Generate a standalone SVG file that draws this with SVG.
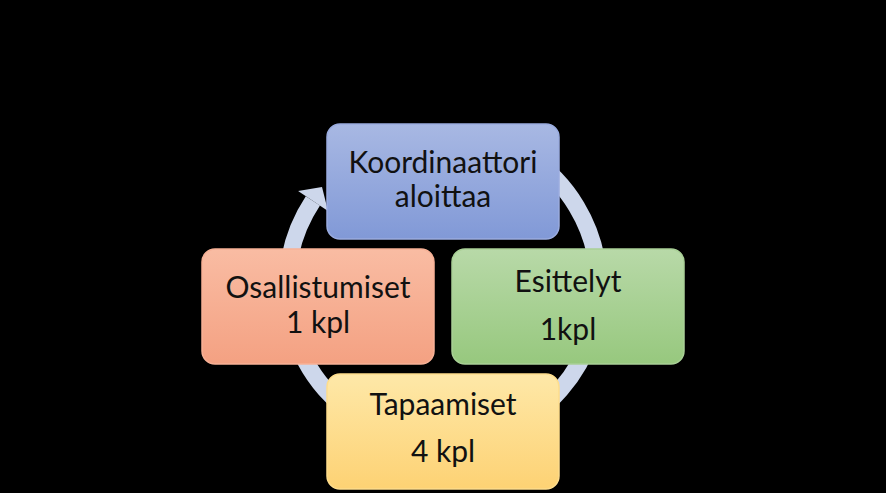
<svg xmlns="http://www.w3.org/2000/svg" width="886" height="493" viewBox="0 0 886 493">
<defs>
<style>
.box{stroke-width:1.5}
.t{font-family:Lato,"Open Sans","Liberation Sans",sans-serif;font-size:30px;fill:#111;text-anchor:middle}
.ring{fill:none;stroke:#cdd7eb;stroke-width:17}
</style>
<linearGradient id="gb" x1="0" y1="0" x2="0" y2="1"><stop offset="0" stop-color="#a8b8e3"/><stop offset="1" stop-color="#8199d7"/></linearGradient>
<linearGradient id="go" x1="0" y1="0" x2="0" y2="1"><stop offset="0" stop-color="#f9bca3"/><stop offset="1" stop-color="#f4a182"/></linearGradient>
<linearGradient id="gg" x1="0" y1="0" x2="0" y2="1"><stop offset="0" stop-color="#b8d9a8"/><stop offset="1" stop-color="#97c87e"/></linearGradient>
<linearGradient id="gy" x1="0" y1="0" x2="0" y2="1"><stop offset="0" stop-color="#fee8a8"/><stop offset="1" stop-color="#fdd274"/></linearGradient>
</defs>
<rect width="886" height="493" fill="#000"/>
<g id="connectors">
<path class="ring" d="M470.1,133.4 A156,156 0 1 1 312.9,200.9"/>
<polygon points="298.1,191 328,211 322,187" fill="#cdd7eb"/>
</g>
<g id="node-koordinaattori">
<rect class="box" x="327" y="124" width="232" height="115" rx="13" fill="url(#gb)" stroke="#9aace0"/>
<text class="t" x="443" y="173">Koordinaattori</text>
<text class="t" x="443" y="207">aloittaa</text>
</g>
<g id="node-esittelyt">
<rect class="box" x="452" y="249" width="232" height="115" rx="13" fill="url(#gg)" stroke="#a9d096"/>
<text class="t" x="568" y="292">Esittelyt</text>
<text class="t" x="568" y="340">1kpl</text>
</g>
<g id="node-tapaamiset">
<rect class="box" x="327" y="374" width="232" height="115" rx="13" fill="url(#gy)" stroke="#fedd8c"/>
<text class="t" x="443" y="415">Tapaamiset</text>
<text class="t" x="443" y="462">4 kpl</text>
</g>
<g id="node-osallistumiset">
<rect class="box" x="202" y="249" width="232" height="115" rx="13" fill="url(#go)" stroke="#f7b196"/>
<text class="t" x="318" y="298">Osallistumiset</text>
<text class="t" x="318" y="333">1 kpl</text>
</g>
</svg>
